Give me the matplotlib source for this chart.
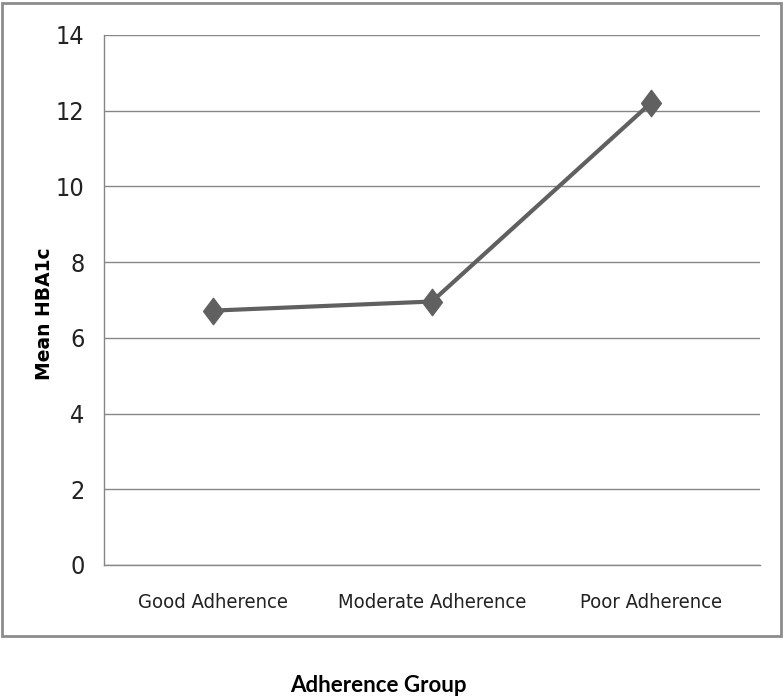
import matplotlib
matplotlib.use("Agg")
import matplotlib.pyplot as plt
from matplotlib.path import Path
from matplotlib.patches import Rectangle

# data
groups = ["Good Adherence", "Moderate Adherence", "Poor Adherence"]
mean_hba1c = [6.72, 6.96, 12.2]
y_ticks = [0, 2, 4, 6, 8, 10, 12, 14]

LINE_GREY = "#606060"
GRID_GREY = "#868686"

# slightly tall diamond, like the Excel marker
diamond = Path([(0, 1), (0.75, 0), (0, -1), (-0.75, 0), (0, 1)],
               [Path.MOVETO, Path.LINETO, Path.LINETO, Path.LINETO, Path.CLOSEPOLY])

fig = plt.figure(figsize=(7.84, 6.97), dpi=100)
ax = fig.add_axes([104 / 784, 132 / 697, 656 / 784, 530 / 697])

x = list(range(len(groups)))
ax.plot(x, mean_hba1c, color=LINE_GREY, lw=3, marker=diamond,
        markersize=19, markerfacecolor=LINE_GREY, markeredgecolor=LINE_GREY,
        zorder=3)

ax.set_xlim(-0.5, len(groups) - 0.5)
ax.set_ylim(0, 14)
ax.set_yticks(y_ticks)
ax.set_xticks(x)
ax.set_xticklabels(groups)
ax.yaxis.grid(True, color=GRID_GREY, lw=1)
ax.set_axisbelow(True)

for side in ["top", "right"]:
    ax.spines[side].set_visible(False)
for side in ["left", "bottom"]:
    ax.spines[side].set_color(GRID_GREY)
    ax.spines[side].set_linewidth(1)

ax.tick_params(axis="y", length=0, pad=14)
ax.tick_params(axis="x", length=0, pad=20)
for lbl in ax.get_yticklabels():
    lbl.set_fontfamily("DejaVu Sans")
    lbl.set_fontstretch("condensed")
    lbl.set_fontsize(18)
    lbl.set_color("#222222")
for lbl in ax.get_xticklabels():
    lbl.set_fontfamily("DejaVu Sans")
    lbl.set_fontstretch("condensed")
    lbl.set_fontsize(14.5)
    lbl.set_color("#222222")

ax.set_ylabel("Mean HBA1c", fontsize=13.5, fontweight="bold",
              family="DejaVu Sans")
ax.yaxis.set_label_coords((54 - 104) / 656, 0.475)

fig.text(378 / 784, 1 - 685 / 697, "Adherence Group", ha="center", va="center",
         fontsize=16, fontweight="bold", family=["Lato", "DejaVu Sans"])

# outer chart border
fig.patches.append(Rectangle((2 / 784, 1 - 636 / 697), 779 / 784, 633 / 697,
                             transform=fig.transFigure, fill=False,
                             edgecolor="#8c8c8c", lw=2))

fig.savefig("out.png", dpi=100)
